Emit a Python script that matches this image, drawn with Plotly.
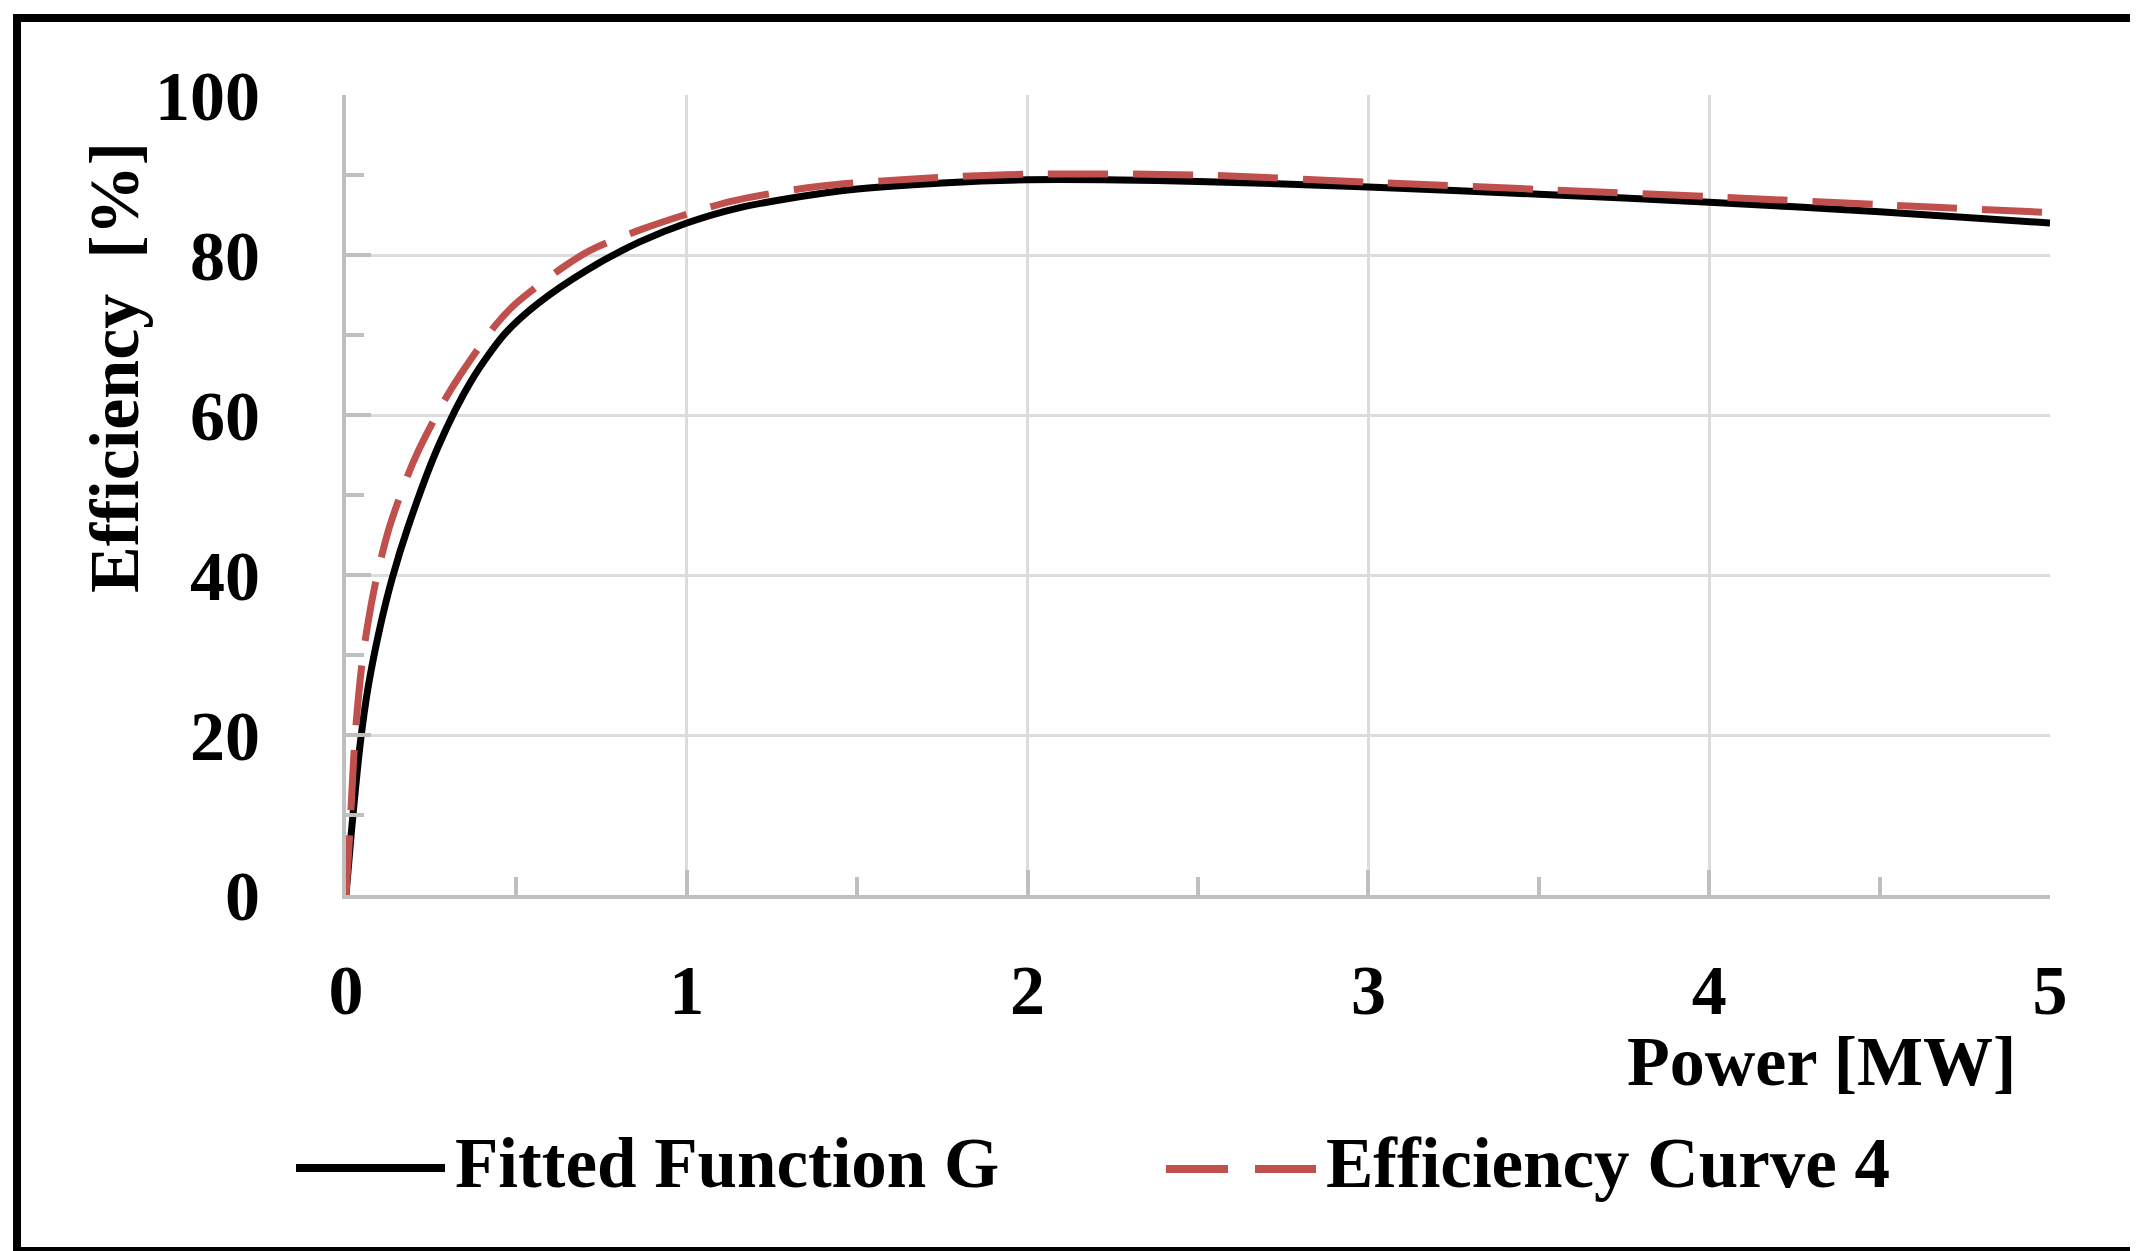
import plotly.graph_objects as go

# ---------------- data ----------------
power_fit = [0, 0.015, 0.042, 0.065, 0.10, 0.135, 0.182, 0.27, 0.368, 0.467, 0.565,
             0.71, 0.86, 1.0, 1.153, 1.447, 1.75, 2.0, 2.5, 3.0, 3.5, 4.0, 4.5, 5.0]
eff_fit = [0, 7.5, 19, 26, 33.5, 39.5, 46, 56, 64.3, 70.2, 74.0,
           78.2, 81.6, 84.0, 85.9, 88.0, 89.0, 89.4, 89.2, 88.5, 87.6, 86.6, 85.4, 84.0]

power_curve = [0, 0.01, 0.027, 0.05, 0.084, 0.124, 0.177, 0.212, 0.29, 0.335, 0.44, 0.5,
               0.638, 0.718, 0.873, 1.13, 1.39, 1.7, 2.0, 2.5, 3.0, 3.5, 4.0, 4.5, 5.0]
eff_curve = [0, 7, 20, 30, 38.5, 45.5, 52, 55.5, 61.9, 65, 71.3, 74,
             78.5, 80.6, 83.3, 86.7, 88.6, 89.6, 90.1, 90.0, 89.1, 88.2, 87.3, 86.3, 85.3]

series_names = ["Fitted Function G", "Efficiency Curve 4"]
x_title = "Power [MW]"
y_title = "Efficiency  [%]"
x_ticks = [0, 1, 2, 3, 4, 5]
y_ticks = [0, 20, 40, 60, 80, 100]

# ---------------- layout geometry (pixels) ----------------
W, H = 2138, 1251
L, R, T, B = 338, 2042, 87, 887   # plot area edges

def px(x):
    return (x - L) / (R - L)

def py(y):
    return (B - y) / (B - T)

FONT = dict(family="Liberation Serif", color="black", weight="bold")
RED = "#C0504D"
GRID = "#DCDCDC"
AXIS = "#BFBFBF"

fig = go.Figure()
fig.add_trace(go.Scatter(x=power_fit, y=eff_fit, mode="lines", name=series_names[0],
                         line=dict(color="black", width=7, shape="spline", smoothing=0.8)))
fig.add_trace(go.Scatter(x=power_curve, y=eff_curve, mode="lines", name=series_names[1],
                         line=dict(color=RED, width=7, dash="60px,25px", shape="spline", smoothing=0.8)))

fig.update_layout(
    width=W, height=H,
    margin=dict(l=L, r=W - R, t=T, b=H - B, pad=0),
    paper_bgcolor="white", plot_bgcolor="white",
    showlegend=False,
    font=dict(**FONT, size=70),
)

fig.update_xaxes(
    range=[0, 5], tickvals=x_ticks, ticktext=[str(v) for v in x_ticks],
    showgrid=True, gridcolor=GRID, gridwidth=3,
    showline=True, linecolor=AXIS, linewidth=4,
    ticks="inside", ticklen=25, tickwidth=4, tickcolor=AXIS,
    minor=dict(dtick=0.5, ticks="inside", ticklen=18, tickwidth=4, tickcolor=AXIS, showgrid=False),
    tickfont=dict(**FONT, size=70), ticklabelstandoff=31,
    zeroline=False,
)
fig.update_yaxes(
    range=[0, 100], tickvals=y_ticks, ticktext=[str(v) for v in y_ticks],
    showgrid=True, gridcolor=GRID, gridwidth=3,
    showline=True, linecolor=AXIS, linewidth=4,
    ticks="inside", ticklen=25, tickwidth=4, tickcolor=AXIS,
    minor=dict(dtick=10, ticks="inside", ticklen=18, tickwidth=4, tickcolor=AXIS, showgrid=False),
    tickfont=dict(**FONT, size=70), ticklabelstandoff=68,
    zeroline=False,
)

shapes = [
    # outer black frame
    dict(type="rect", xref="paper", yref="paper", x0=px(9), x1=px(2129), y0=py(1243), y1=py(10),
         line=dict(color="black", width=8), fillcolor="rgba(0,0,0,0)", layer="above"),
    # legend samples
    dict(type="line", xref="paper", yref="paper", x0=px(288), x1=px(437), y0=py(1160), y1=py(1160),
         line=dict(color="black", width=8)),
    dict(type="line", xref="paper", yref="paper", x0=px(1158), x1=px(1308), y0=py(1161), y1=py(1161),
         line=dict(color=RED, width=8, dash="62px,27px")),
]

annotations = [
    dict(text=x_title, xref="paper", yref="paper", x=px(2010), y=py(1053),
         xanchor="right", yanchor="middle", showarrow=False, font=dict(**FONT, size=70)),
    dict(text=y_title, xref="paper", yref="paper", x=px(106), y=py(360), textangle=-90,
         xanchor="center", yanchor="middle", showarrow=False, font=dict(**FONT, size=70)),
    dict(text=series_names[0], xref="paper", yref="paper", x=px(445), y=py(1155),
         xanchor="left", yanchor="middle", showarrow=False, font=dict(**FONT, size=71)),
    dict(text=series_names[1], xref="paper", yref="paper", x=px(1316), y=py(1155),
         xanchor="left", yanchor="middle", showarrow=False, font=dict(**FONT, size=71)),
]

fig.update_layout(shapes=shapes, annotations=annotations)
fig.write_html("out.html")
